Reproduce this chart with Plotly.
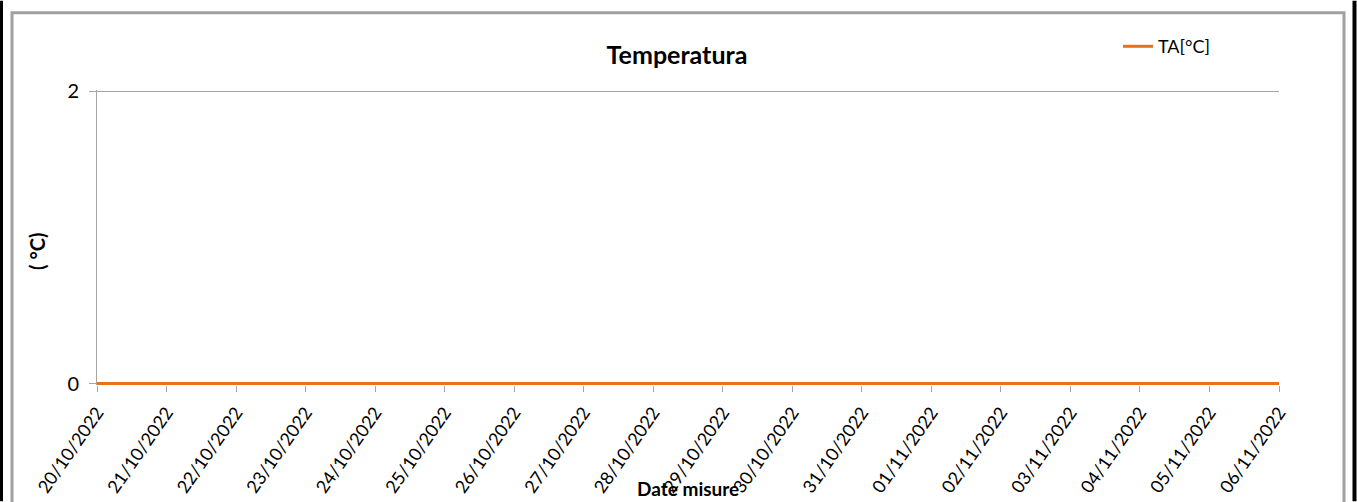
import plotly.graph_objects as go

DATES = [
    "20/10/2022", "21/10/2022", "22/10/2022", "23/10/2022", "24/10/2022",
    "25/10/2022", "26/10/2022", "27/10/2022", "28/10/2022", "29/10/2022",
    "30/10/2022", "31/10/2022", "01/11/2022", "02/11/2022", "03/11/2022",
    "04/11/2022", "05/11/2022", "06/11/2022",
]
TA_VALUES = [0, 0, 0, 0, 0, 0, 0, 0, 0, 0, 0, 0, 0, 0, 0, 0, 0, 0]
Y_TICKS = [0, 2]

ORANGE = "#EE7014"
AXIS_GREY = "#A6A6A6"
FONT = "Lato, Open Sans, Arial, sans-serif"

W, H = 1357, 502
L, R = 97, 1279
# pixel rows of y=2 and y=0; the axis range is padded a little so the
# 3px line at 0 and the gridline at 2 are not clipped by the plot area
Y2_PX, Y0_PX = 91, 384
PAD = 0.01
UNIT = (Y0_PX - Y2_PX) / 2
T = Y2_PX - PAD * UNIT
B = Y0_PX + PAD * UNIT


def px_x(p):
    return (p - L) / (R - L)


def px_y(p):
    return (B - p) / (B - T)


fig = go.Figure(
    go.Scatter(
        x=DATES,
        y=TA_VALUES,
        mode="lines",
        name="TA[°C]",
        line=dict(color=ORANGE, width=3),
        cliponaxis=False,
    )
)

fig.update_layout(
    width=W,
    height=H,
    margin=dict(l=L, r=W - R, t=T, b=H - B, autoexpand=False),
    paper_bgcolor="#FFFFFF",
    plot_bgcolor="#FFFFFF",
    font=dict(family=FONT, size=17, color="#000000"),
    title=dict(
        text="<b>Temperatura</b>",
        x=px_x(677), xref="paper", xanchor="center",
        y=1 - 55 / H, yanchor="middle",
        font=dict(size=25),
    ),
    showlegend=True,
    legend=dict(
        x=px_x(1118), y=px_y(46), xanchor="left", yanchor="middle",
        font=dict(size=18), bgcolor="rgba(0,0,0,0)",
    ),
)

fig.update_xaxes(
    type="category",
    range=[0, len(DATES) - 1],
    tickmode="array",
    tickvals=DATES,
    tickangle=-55,
    ticks="outside",
    ticklen=6,
    tickcolor=AXIS_GREY,
    ticklabelstandoff=3,
    showline=False,
    showgrid=False,
    zeroline=False,
    layer="below traces",
    tickfont=dict(size=18),
)
fig.update_yaxes(
    range=[-PAD, 2 + PAD],
    tickvals=Y_TICKS,
    ticks="outside",
    ticklen=7,
    tickcolor=AXIS_GREY,
    ticklabelstandoff=6,
    showline=True,
    linecolor=AXIS_GREY,
    showgrid=True,
    gridcolor=AXIS_GREY,
    zeroline=True,
    zerolinecolor=AXIS_GREY,
    zerolinewidth=1,
    layer="below traces",
    tickfont=dict(size=20),
)

# axis titles placed as in the reference (x title overlaps the tick labels)
fig.add_annotation(
    text="<b>Date misure</b>", x=px_x(688), y=px_y(489), xref="paper", yref="paper",
    showarrow=False, font=dict(size=19), xanchor="center", yanchor="middle",
)
fig.add_annotation(
    text="<b>( °C)</b>", x=px_x(37), y=px_y(252), xref="paper", yref="paper",
    showarrow=False, font=dict(size=20), textangle=-90, xanchor="center", yanchor="middle",
)

# chart frame
fig.add_shape(type="rect", xref="paper", yref="paper",
              x0=px_x(12), x1=px_x(1344), y0=px_y(12), y1=px_y(510),
              line=dict(color="#A0A0A0", width=3), layer="below")
fig.add_shape(type="line", xref="paper", yref="paper",
              x0=px_x(1.5), x1=px_x(1.5), y0=px_y(0), y1=px_y(502),
              line=dict(color="#000000", width=3))
fig.add_shape(type="line", xref="paper", yref="paper",
              x0=px_x(1354.5), x1=px_x(1354.5), y0=px_y(0), y1=px_y(502),
              line=dict(color="#000000", width=4))

fig.write_html(
    "out.html",
    config={"displayModeBar": False},
    post_script="document.body.style.margin='0';",
)
